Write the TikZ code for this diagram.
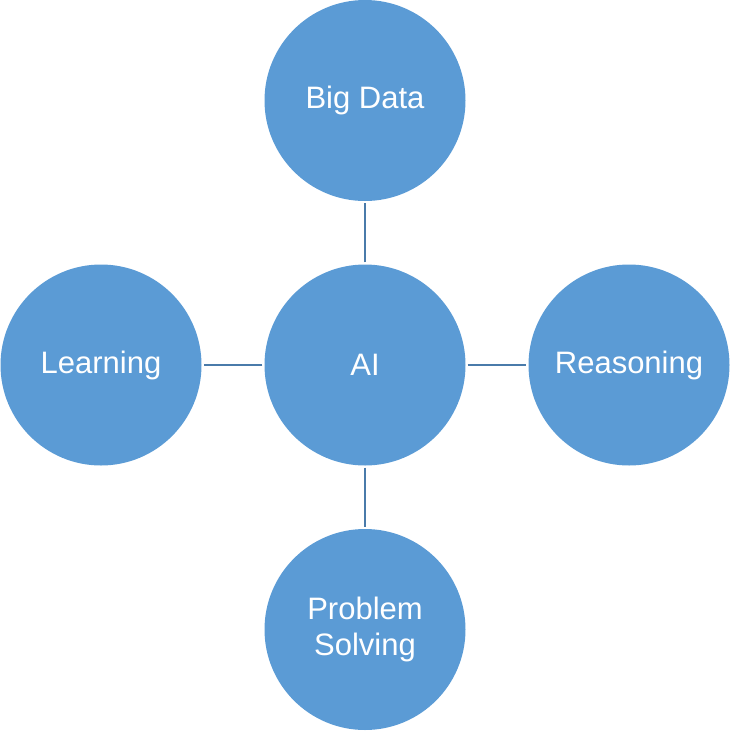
\documentclass[tikz,border=0pt]{standalone}
\usepackage{fontspec}
\setmainfont{Liberation Sans}
\definecolor{circfill}{HTML}{5B9BD5}
\definecolor{linkcol}{HTML}{4A7BAA}
\begin{document}
\begin{tikzpicture}[x=1pt,y=-1pt,
  topic/.style={circle,fill=circfill,draw=none,minimum size=201pt,inner sep=0pt,
    text=white,font=\fontsize{31}{36}\selectfont,align=center},
  link/.style={draw=linkcol,line width=2pt,shorten <=2pt,shorten >=2pt}]
\useasboundingbox (0,0) rectangle (730,731);
\node[topic] (ai) at (365,365) {AI};
\node[topic] (big) at (365,100.5) {Big Data};
\node[topic] (learn) at (101,365) {Learning};
\node[topic] (reason) at (629,365) {Reasoning};
\node[topic] (prob) at (365,629.5) {Problem\\Solving};
\draw[link] (ai) -- (big);
\draw[link] (ai) -- (learn);
\draw[link] (ai) -- (reason);
\draw[link] (ai) -- (prob);
\end{tikzpicture}
\end{document}
